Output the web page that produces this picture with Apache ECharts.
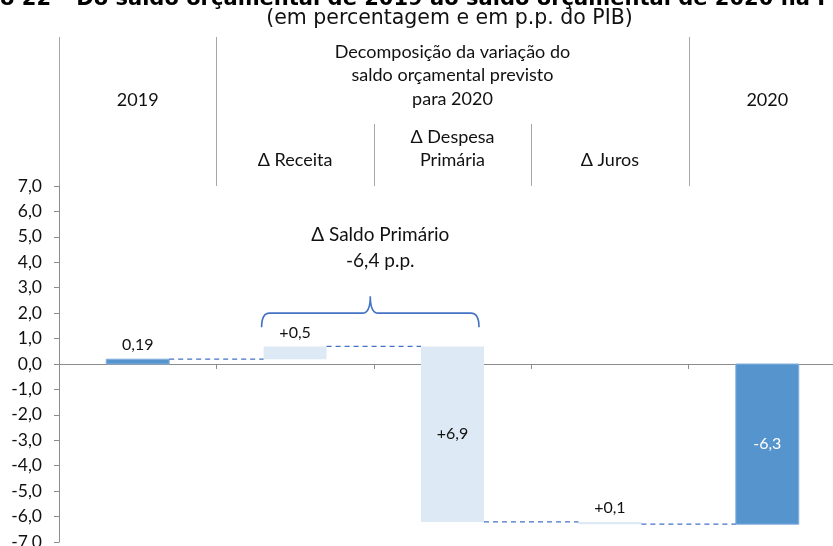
<!DOCTYPE html>
<html><head><meta charset="utf-8">
<script src="https://cdn.jsdelivr.net/npm/echarts@6/dist/echarts.min.js"></script>
<style>html,body{margin:0;padding:0;background:#fff}#c{width:833px;height:546px}</style>
</head><body><div id="c"></div>
<script>
// ---- data ----
const categories = ['2019', 'Δ Receita', 'Δ Despesa Primária', 'Δ Juros', '2020'];
const barStart = [0, 0.19, 0.69, -6.21, 0];
const barEnd = [0.19, 0.69, -6.21, -6.30, -6.30];
const barLabels = ['0,19', '+0,5', '+6,9', '+0,1', '-6,3'];
const isTotal = [true, false, false, false, true];
const yMin = -7, yMax = 7, yInterval = 1;
const bracketFrom = 1, bracketTo = 2, bracketLevel = 2.0;
const bracketText = 'Δ Saldo Primário\n-6,4 p.p.';
const headerTop = ['2019', 'Decomposição da variação do\nsaldo orçamental previsto\npara 2020', '2020'];
const headerSub = ['Δ Receita', 'Δ Despesa\nPrimária', 'Δ Juros'];
const titleText = 'Gráfico 22 – Do saldo orçamental de 2019 ao saldo orçamental de 2020 na POE/2020';
const subtitleText = '(em percentagem e em p.p. do PIB)';

const FONT = 'Lato, "Noto Sans", sans-serif';
const BAR_FRAC = 0.4;
const DARK = '#5694CD', LIGHT = '#DDE9F5', LINE = '#4472C4', AXIS = '#8C8C8C';

const chart = echarts.init(document.getElementById('c'), null, {renderer: 'canvas'});

function fmt(v) { return v.toFixed(1).replace('.', ','); }

const option = {
  animation: false,
  backgroundColor: '#fff',
  grid: {left: 59, top: 186, width: 787, height: 356, containLabel: false, outerBoundsMode: 'none'},
  xAxis: {
    type: 'category', data: categories,
    axisLine: {show: true, onZero: true, lineStyle: {color: AXIS, width: 1}},
    axisTick: {show: true, length: 5, lineStyle: {color: AXIS}},
    axisLabel: {show: false},
    splitLine: {show: false}
  },
  yAxis: {
    type: 'value', min: yMin, max: yMax, interval: yInterval,
    axisLine: {show: true, lineStyle: {color: AXIS, width: 1}},
    axisTick: {show: true, length: 5, lineStyle: {color: AXIS}},
    axisLabel: {formatter: fmt, fontFamily: FONT, fontSize: 17.5, color: '#111', margin: 17},
    splitLine: {show: false}
  },
  series: [
    {
      type: 'custom', name: 'bars', clip: false,
      data: categories.map((c, i) => [i, barStart[i], barEnd[i]]),
      encode: {x: 0, y: [1, 2]},
      renderItem: function (params, api) {
        const i = api.value(0);
        const p0 = api.coord([i, api.value(1)]);
        const p1 = api.coord([i, api.value(2)]);
        const bw = api.size([1, 0])[0] * BAR_FRAC;
        const top = Math.min(p0[1], p1[1]);
        const h = Math.max(Math.abs(p1[1] - p0[1]), 1.5);
        const x = p0[0] - bw / 2;
        const dark = isTotal[i];
        const children = [{
          type: 'rect',
          shape: {x: x, y: top, width: bw, height: h},
          style: {fill: dark ? DARK : LIGHT, stroke: dark ? '#86B1DD' : null, lineWidth: dark ? 1 : 0}
        }];
        const inside = h > 40;
        children.push({
          type: 'text',
          style: {
            x: p0[0], y: inside ? top + h / 2 : top - 6,
            text: barLabels[i], font: '16px ' + FONT,
            fill: inside && dark ? '#fff' : '#111',
            align: 'center', verticalAlign: inside ? 'middle' : 'bottom'
          }
        });
        return {type: 'group', children: children};
      },
      z: 2
    },
    {
      type: 'custom', name: 'connectors', clip: false,
      data: barEnd.slice(0, -1).map((v, i) => [i, v]),
      encode: {x: 0, y: 1},
      renderItem: function (params, api) {
        const i = api.value(0), v = api.value(1);
        const bw = api.size([1, 0])[0] * BAR_FRAC;
        const a = api.coord([i, v]);
        const b = api.coord([i + 1, v]);
        return {
          type: 'line',
          shape: {x1: a[0] + bw / 2, y1: a[1], x2: b[0] - bw / 2, y2: b[1]},
          style: {stroke: LINE, lineWidth: 1.3, lineDash: [5, 4]}
        };
      },
      z: 3
    },
    {
      type: 'custom', name: 'bracket', clip: false,
      data: [[bracketFrom, bracketTo, bracketLevel]],
      encode: {x: [0, 1], y: 2},
      renderItem: function (params, api) {
        const bw = api.size([1, 0])[0] * BAR_FRAC;
        const l = api.coord([api.value(0), api.value(2)]);
        const r = api.coord([api.value(1), api.value(2)]);
        const x1 = l[0] - bw / 2 - 2, x2 = r[0] + bw / 2 - 5, y = l[1];
        const m = (x1 + x2) / 2;
        const d = 'M' + x1 + ' ' + (y + 14) +
          ' Q' + x1 + ' ' + y + ' ' + (x1 + 8) + ' ' + y +
          ' L' + (m - 8) + ' ' + y +
          ' Q' + m + ' ' + y + ' ' + m + ' ' + (y - 17) +
          ' Q' + m + ' ' + y + ' ' + (m + 8) + ' ' + y +
          ' L' + (x2 - 8) + ' ' + y +
          ' Q' + x2 + ' ' + y + ' ' + x2 + ' ' + (y + 14);
        return {
          type: 'group',
          children: [
            {type: 'path', shape: {pathData: d}, style: {fill: null, stroke: LINE, lineWidth: 1.6}},
            {type: 'text', style: {x: m + 10, y: y - 65, text: bracketText, font: '19px ' + FONT,
              fill: '#111', align: 'center', verticalAlign: 'middle', lineHeight: 26}}
          ]
        };
      },
      z: 4
    }
  ]
};
chart.setOption(option);

// header / titles placed from the axis scale
function cx(i) { return chart.convertToPixel({xAxisIndex: 0}, i); }
const catW = cx(1) - cx(0);
const edge = i => cx(i) - catW / 2;
const gridTop = 186;

const meas = document.createElement('canvas').getContext('2d');
meas.font = 'bold 19px "DejaVu Sans", sans-serif';
const visW = meas.measureText('o 22 – Do saldo orçamental de 2019 ao saldo orçamental de 2020 na P').width;
const tSize = 19 * 833 / visW;
const tFont2 = 'bold ' + tSize.toFixed(2) + 'px "DejaVu Sans", sans-serif';
meas.font = tFont2;
const hidden2 = meas.measureText('Gráfic').width;

const hdrStyle = (x, y, text) => ({
  type: 'text', silent: true,
  style: {x: x, y: y, text: text, font: '18px ' + FONT, fill: '#111', align: 'center', verticalAlign: 'middle', lineHeight: 23.5}
});
const vline = (x, y1, y2) => ({
  type: 'line', silent: true,
  shape: {x1: x, y1: y1, x2: x, y2: y2},
  style: {stroke: '#A6A6A6', lineWidth: 1}
});

const graphics = [
  {type: 'text', silent: true, style: {x: -hidden2, y: 10, text: titleText, font: tFont2, fill: '#000', align: 'left', verticalAlign: 'bottom'}},
  {type: 'text', silent: true, style: {x: (edge(1) + edge(4)) / 2 - 3, y: 19, text: subtitleText, font: '20.5px "DejaVu Sans", sans-serif', fill: '#111', align: 'center', verticalAlign: 'middle'}},
  vline(Math.round(edge(0)) + 0.5, 37, gridTop),
  vline(Math.round(edge(1)) + 0.5, 37, gridTop),
  vline(Math.round(edge(4)) + 0.5, 37, gridTop),
  vline(Math.round(edge(2)) + 0.5, 124, gridTop),
  vline(Math.round(edge(3)) + 0.5, 124, gridTop),
  hdrStyle(cx(0), 100, headerTop[0]),
  hdrStyle((edge(1) + edge(4)) / 2, 75.5, headerTop[1]),
  hdrStyle(cx(4), 100, headerTop[2]),
  hdrStyle(cx(1), 160, headerSub[0]),
  hdrStyle(cx(2), 148.5, headerSub[1]),
  hdrStyle(cx(3), 160, headerSub[2])
];
chart.setOption({graphic: graphics});
</script>
</body></html>
